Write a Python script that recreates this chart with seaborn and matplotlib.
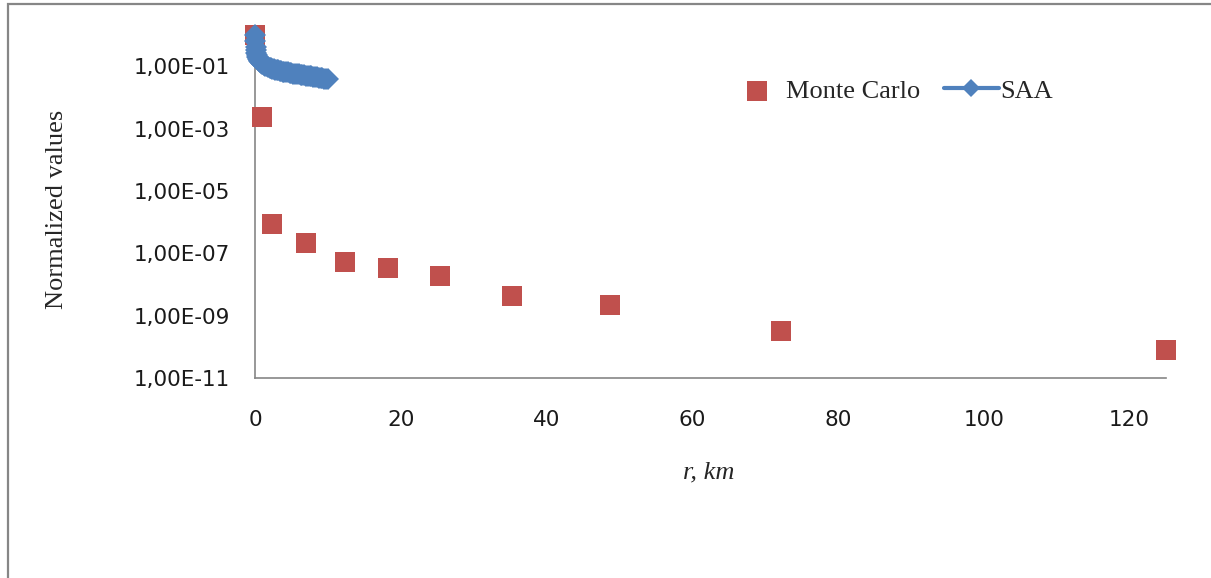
import numpy as np
import pandas as pd
import seaborn as sns
import matplotlib.pyplot as plt
from matplotlib.ticker import FixedLocator, FuncFormatter, NullLocator
from matplotlib.patches import Rectangle

# Monte Carlo points
mc_r = [0.0, 0.9, 2.3, 7.0, 12.3, 18.2, 25.4, 35.2, 48.7, 72.2, 125.0]
mc_val = [1.0, 2.4e-3, 8.7e-7, 2.1e-7, 5.1e-8, 3.4e-8, 1.8e-8, 4.4e-9, 2.2e-9, 3.1e-10, 7.8e-11]

# SAA curve (dense points)
saa_r = [0.0, 0.05, 0.1, 0.15, 0.2, 0.25, 0.3, 0.4, 0.5, 0.6, 0.7, 0.8, 0.9, 1.0, 1.2, 1.4,
         1.6, 1.8, 2.0, 2.2, 2.4, 2.6, 2.8, 3.0, 3.2, 3.4, 3.6, 3.8, 4.0, 4.25, 4.5, 4.75,
         5.0, 5.25, 5.5, 5.75, 6.0, 6.25, 6.5, 6.75, 7.0, 7.25, 7.5, 7.75, 8.0, 8.25, 8.5,
         8.75, 9.0, 9.25, 9.5, 9.75, 10.0]
saa_val = [1.0, 0.62, 0.42, 0.32, 0.26, 0.23, 0.2, 0.17, 0.155, 0.145, 0.138, 0.13, 0.125,
           0.12, 0.11, 0.104, 0.098, 0.093, 0.089, 0.085, 0.082, 0.079, 0.077, 0.075, 0.073,
           0.071, 0.069, 0.067, 0.066, 0.064, 0.063, 0.061, 0.060, 0.058, 0.057, 0.056,
           0.055, 0.053, 0.052, 0.051, 0.050, 0.049, 0.048, 0.047, 0.046, 0.045, 0.044,
           0.043, 0.042, 0.041, 0.040, 0.039, 0.038]

ytick_exp = [-11, -9, -7, -5, -3, -1]
xticks = [0, 20, 40, 60, 80, 100, 120]

mc = pd.DataFrame({'r': mc_r, 'v': mc_val})
saa = pd.DataFrame({'r': saa_r, 'v': saa_val})

sns.set_style('white')
plt.rcParams['font.family'] = ['DejaVu Sans']

W, H = 1211, 578
fig = plt.figure(figsize=(W / 100, H / 100), dpi=100)
ax = fig.add_axes([255 / W, 1 - 378 / H, (1166 - 255) / W, (378 - 35) / H])

red = '#C0504D'
blue = '#4F81BD'
grey = '#868686'

sns.scatterplot(data=mc, x='r', y='v', marker='s', s=205, color=red, linewidth=0,
                ax=ax, clip_on=False, zorder=3, label='Monte Carlo')
sns.lineplot(data=saa, x='r', y='v', marker='D', markersize=11, color=blue, linewidth=3,
             markeredgewidth=0, ax=ax, clip_on=False, zorder=4, label='SAA')

ax.set_yscale('log')
ax.set_ylim(1e-11, 1)
ax.set_xlim(0, 125)
ax.yaxis.set_major_locator(FixedLocator([10.0 ** e for e in ytick_exp]))
ax.yaxis.set_minor_locator(NullLocator())
ax.yaxis.set_major_formatter(FuncFormatter(lambda v, p: '1,00E%03d' % int(round(np.log10(v)))))
ax.set_xticks(xticks)

for s in ['top', 'right']:
    ax.spines[s].set_visible(False)
for s in ['left', 'bottom']:
    ax.spines[s].set_color(grey)
    ax.spines[s].set_linewidth(1.2)
ax.tick_params(axis='y', direction='in', length=5.5, width=1, color=grey, pad=18,
               labelsize=15.5, labelcolor='#1a1a1a')
ax.tick_params(axis='x', direction='in', length=5.5, width=1, color=grey, pad=23,
               labelsize=15.5, labelcolor='#1a1a1a')
ax.set_xlabel('')
ax.set_ylabel('')

fig.text(709 / W, 1 - 472 / H, 'r, km', family='Liberation Serif', style='italic',
         fontsize=19, ha='center', va='center')
fig.text(57 / W, 1 - 209 / H, 'Normalized values', family='Liberation Serif',
         fontsize=19, rotation=90, ha='center', va='center')

leg = ax.legend(loc='center left', bbox_to_anchor=(729 / W, 1 - 91 / H),
                bbox_transform=fig.transFigure, ncol=2, frameon=False,
                prop={'family': 'Liberation Serif', 'size': 19},
                handlelength=2.1, handletextpad=0.05, columnspacing=0.9,
                borderpad=0, borderaxespad=0)
leg.legend_handles[1].set_markersize(9)

fig.patches.append(Rectangle((8 / W, -0.2), 1.2, 1.2 - 4 / H, transform=fig.transFigure,
                             fill=False, edgecolor=grey, linewidth=1.6))

fig.savefig('out.png', dpi=100)
